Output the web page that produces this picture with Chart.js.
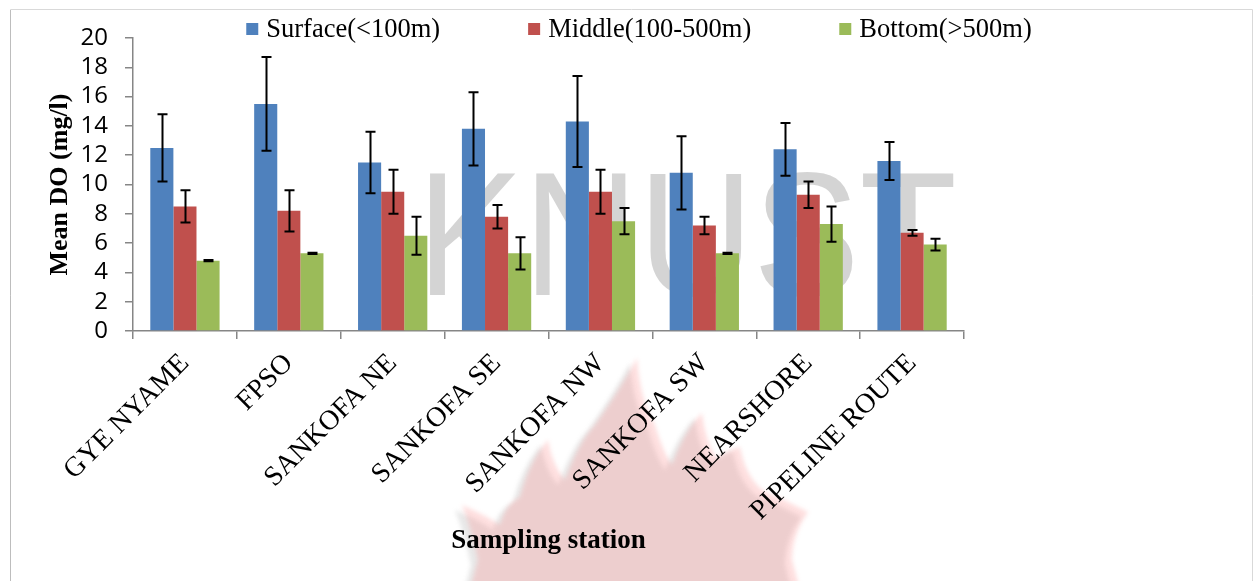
<!DOCTYPE html>
<html>
<head>
<meta charset="utf-8">
<script src="https://cdn.jsdelivr.net/npm/chart.js@4/dist/chart.umd.min.js"></script>
<style>
  html, body { margin: 0; padding: 0; background: #ffffff; }
  #wrap { width: 1255px; height: 581px; position: relative; }
</style>
</head>
<body>
<div id="wrap"><canvas id="chart" width="1255" height="581"></canvas></div>
<script>
// Sampling stations
const stations = ['GYE NYAME', 'FPSO', 'SANKOFA NE', 'SANKOFA SE', 'SANKOFA NW', 'SANKOFA SW', 'NEARSHORE', 'PIPELINE ROUTE'];

// Mean dissolved oxygen (mg/l) by depth layer, with error bar half-widths
const surfaceMean = [12.5, 15.5, 11.5, 13.8, 14.3, 10.8, 12.4, 11.6];
const surfaceErr  = [2.3, 3.2, 2.1, 2.5, 3.1, 2.5, 1.8, 1.3];
const middleMean  = [8.5, 8.2, 9.5, 7.8, 9.5, 7.2, 9.3, 6.7];
const middleErr   = [1.1, 1.4, 1.5, 0.8, 1.5, 0.6, 0.9, 0.2];
const bottomMean  = [4.8, 5.3, 6.5, 5.3, 7.5, 5.3, 7.3, 5.9];
const bottomErr   = [0.04, 0.04, 1.3, 1.1, 0.9, 0.04, 1.2, 0.4];

const seriesLabels = ['Surface(<100m)', 'Middle(100-500m)', 'Bottom(>500m)'];
const seriesColors = ['#4F81BD', '#C0504D', '#9BBB59'];

// y-axis ticks
const yMin = 0, yMax = 20, yStep = 2;

const AXIS_GREY = '#868686';
const SERIF = "'Liberation Serif', 'Times New Roman', serif";
const SANS = "'Open Sans', 'Liberation Sans', sans-serif";

// Outer frame plus faint institutional watermark behind the plot
const backdrop = {
  id: 'backdrop',
  beforeDraw(chart) {
    const ctx = chart.ctx;
    ctx.save();
    // frame
    ctx.lineWidth = 1;
    ctx.strokeStyle = '#d9d9d9';
    ctx.beginPath();
    ctx.moveTo(10.5, 581); ctx.lineTo(10.5, 9.5); ctx.lineTo(1252.5, 9.5); ctx.lineTo(1252.5, 581);
    ctx.stroke();
    ctx.strokeStyle = '#bdbdbd';
    ctx.beginPath(); ctx.moveTo(10.5, 10); ctx.lineTo(10.5, 581); ctx.stroke();

    // flame emblem
    const flame = () => {
      ctx.beginPath();
      ctx.moveTo(470, 590);
      ctx.lineTo(478, 560);
      ctx.quadraticCurveTo(472, 530, 462, 505);
      ctx.quadraticCurveTo(485, 515, 500, 525);
      ctx.quadraticCurveTo(505, 505, 520, 497);
      ctx.quadraticCurveTo(530, 460, 548, 440);
      ctx.quadraticCurveTo(552, 465, 565, 480);
      ctx.quadraticCurveTo(580, 440, 595, 425);
      ctx.quadraticCurveTo(620, 390, 637, 358);
      ctx.quadraticCurveTo(640, 400, 655, 425);
      ctx.quadraticCurveTo(662, 450, 672, 465);
      ctx.quadraticCurveTo(685, 430, 702, 413);
      ctx.quadraticCurveTo(705, 440, 716, 458);
      ctx.quadraticCurveTo(728, 450, 740, 447);
      ctx.quadraticCurveTo(745, 475, 762, 490);
      ctx.quadraticCurveTo(785, 500, 808, 512);
      ctx.quadraticCurveTo(792, 535, 792, 560);
      ctx.lineTo(800, 590);
      ctx.closePath();
    };
    ctx.filter = 'blur(2px)';
    ctx.save();
    ctx.translate(-7, 5);
    ctx.fillStyle = 'rgba(130,130,130,0.18)';
    flame(); ctx.fill();
    ctx.restore();
    ctx.fillStyle = 'rgba(250,140,140,0.28)';
    flame(); ctx.fill();
    ctx.filter = 'none';

    // lettering
    ctx.fillStyle = 'rgba(185,185,185,0.62)';
    ctx.font = "177px 'Liberation Sans', Arial, sans-serif";
    ctx.textBaseline = 'alphabetic';
    ctx.textAlign = 'left';
    ctx.translate(417, 295);
    ctx.scale(0.9, 1);
    ctx.fillText('KNUST', 0, 0);
    ctx.restore();
  }
};

// Symmetric error bars on every bar
const errorBars = {
  id: 'errorBars',
  afterDatasetsDraw(chart) {
    const ctx = chart.ctx;
    const yScale = chart.scales.y;
    ctx.save();
    ctx.strokeStyle = '#000000';
    ctx.lineWidth = 2;
    chart.data.datasets.forEach((ds, di) => {
      const meta = chart.getDatasetMeta(di);
      meta.data.forEach((bar, i) => {
        const v = ds.data[i], e = ds.errors[i];
        const x = Math.round(bar.x) + 0.5;
        const yt = yScale.getPixelForValue(v + e);
        const yb = yScale.getPixelForValue(v - e);
        const cap = 5;
        ctx.beginPath();
        ctx.moveTo(x, yt); ctx.lineTo(x, yb);
        ctx.moveTo(x - cap, yt); ctx.lineTo(x + cap, yt);
        ctx.moveTo(x - cap, yb); ctx.lineTo(x + cap, yb);
        ctx.stroke();
      });
    });
    ctx.restore();
  }
};

// Legend row across the top
const topLegend = {
  id: 'topLegend',
  afterDraw(chart) {
    const ctx = chart.ctx;
    ctx.save();
    ctx.font = '26.5px ' + SERIF;
    const box = 12, gapText = 8, gapItem = 88;
    const items = chart.data.datasets.map(ds => ({ label: ds.label, color: ds.backgroundColor, w: ctx.measureText(ds.label).width }));
    const total = items.reduce((s, it) => s + box + gapText + it.w, 0) + gapItem * (items.length - 1);
    let x = 639 - total / 2;
    const cy = 29;
    ctx.textBaseline = 'middle';
    ctx.textAlign = 'left';
    items.forEach(it => {
      ctx.fillStyle = it.color;
      ctx.fillRect(x, cy - box / 2, box, box);
      ctx.fillStyle = '#000000';
      ctx.fillText(it.label, x + box + gapText, cy + 1);
      x += box + gapText + it.w + gapItem;
    });
    ctx.restore();
  }
};

const datasets = [
  { label: seriesLabels[0], data: surfaceMean, errors: surfaceErr, backgroundColor: seriesColors[0] },
  { label: seriesLabels[1], data: middleMean, errors: middleErr, backgroundColor: seriesColors[1] },
  { label: seriesLabels[2], data: bottomMean, errors: bottomErr, backgroundColor: seriesColors[2] }
];

new Chart(document.getElementById('chart'), {
  type: 'bar',
  data: { labels: stations, datasets },
  plugins: [backdrop, errorBars, topLegend],
  options: {
    responsive: false,
    animation: false,
    devicePixelRatio: 1,
    layout: { padding: { top: 38, left: 0, right: 0, bottom: 0 } },
    datasets: { bar: { barPercentage: 1.0, categoryPercentage: 0.667, borderWidth: 0 } },
    plugins: {
      legend: { display: false },
      tooltip: { enabled: false }
    },
    scales: {
      x: {
        grid: { offset: true, drawOnChartArea: false, drawTicks: true, tickLength: 8, color: AXIS_GREY, lineWidth: 1.5 },
        border: { color: AXIS_GREY, width: 1.5 },
        ticks: {
          autoSkip: false, minRotation: 45, maxRotation: 45,
          labelOffset: 0, padding: 8,
          color: '#000000',
          font: { family: SERIF, size: 28 }
        },
        title: {
          display: true, text: 'Sampling station', color: '#000000',
          font: { family: SERIF, size: 27, weight: 'bold' },
          padding: { top: 0, bottom: 24 }
        },
        afterFit(scale) { scale.height = 250; }
      },
      y: {
        min: yMin, max: yMax,
        grid: { drawOnChartArea: false, drawTicks: true, tickLength: 8, color: AXIS_GREY, lineWidth: 1.5 },
        border: { color: AXIS_GREY, width: 1.5 },
        ticks: {
          stepSize: yStep, autoSkip: false, padding: 17, color: '#000000',
          font: { family: SANS, size: 24 }
        },
        title: {
          display: true, text: 'Mean DO (mg/l)', color: '#000000',
          font: { family: SERIF, size: 26, weight: 'bold' },
          padding: { top: 45, bottom: 0 }
        },
        afterFit(scale) { scale.width = 133; }
      },
      spacer: {
        position: 'right', display: true,
        grid: { display: false }, border: { display: false },
        ticks: { display: false },
        afterFit(scale) { scale.width = 291; }
      }
    }
  }
});
</script>
</body>
</html>
